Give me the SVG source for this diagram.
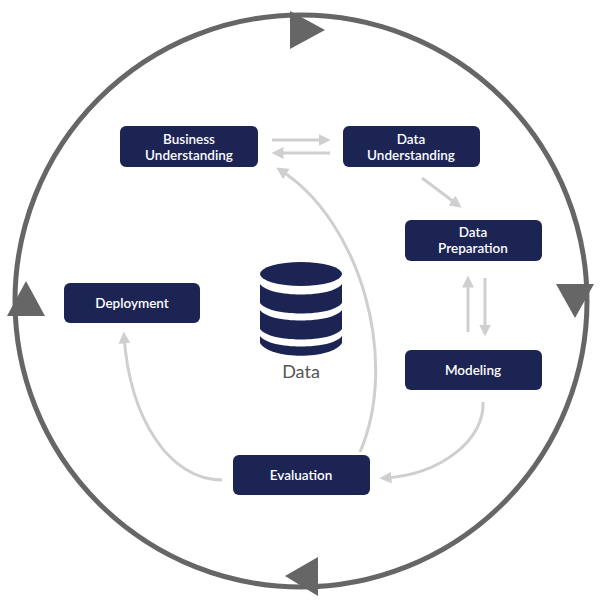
<svg xmlns="http://www.w3.org/2000/svg" width="607" height="612" viewBox="0 0 607 612">
<style>
.n rect{fill:#1c2453}
.n text{fill:#fff;font-family:"Lato","Liberation Sans",sans-serif;font-size:13.5px;font-weight:600;text-anchor:middle}
.c path{fill:none;stroke:#cfcfcf;stroke-width:3}
</style>
<defs>
<marker id="a" markerWidth="4" markerHeight="4" refX="2.5" refY="2" orient="auto" markerUnits="strokeWidth"><path d="M0,0L4,2L0,4z" fill="#cfcfcf"/></marker>
</defs>
<rect width="607" height="612" fill="#fff"/>
<circle cx="301" cy="301" r="286" fill="none" stroke="#666" stroke-width="5"/>
<g fill="#666">
<path d="M290,11L325,30L290,49z"/>
<path d="M556,284L594,284L575,318z"/>
<path d="M318,557L318,596L285,576z"/>
<path d="M7,316L45,316L26,281z"/>
</g>
<g class="c">
<path d="M272,140H326" marker-end="url(#a)"/>
<path d="M330,153H276" marker-end="url(#a)"/>
<path d="M422,178L458,205" marker-end="url(#a)"/>
<path d="M468,332V280" marker-end="url(#a)"/>
<path d="M485,278V332" marker-end="url(#a)"/>
<path d="M483,402C485,440 440,475 384,478" marker-end="url(#a)"/>
<path d="M360,452C400,360 360,220 280,170" marker-end="url(#a)"/>
<path d="M222,480C170,480 130,420 124,336" marker-end="url(#a)"/>
</g>
<g id="db" fill="#1c2453">
<ellipse cx="301" cy="274" rx="41" ry="12"/>
<path d="M260,284C270,298 332,298 342,284V303C332,317 270,317 260,303z"/>
<path d="M260,310C270,324 332,324 342,310V329C332,343 270,343 260,329z"/>
<path d="M260,336C270,350 332,350 342,336V343C332,360 270,360 260,343z"/>
</g>
<text x="301" y="378" font-family="Lato,'Liberation Sans',sans-serif" font-size="18" fill="#555" text-anchor="middle">Data</text>
<g id="bu" class="n"><rect x="120" y="126" width="138" height="41" rx="6"/><text x="189" y="144">Business</text><text x="189" y="160">Understanding</text></g>
<g id="du" class="n"><rect x="343" y="126" width="137" height="41" rx="6"/><text x="411" y="144">Data</text><text x="411" y="160">Understanding</text></g>
<g id="dp" class="n"><rect x="405" y="220" width="137" height="41" rx="6"/><text x="473" y="237">Data</text><text x="473" y="253">Preparation</text></g>
<g id="dep" class="n"><rect x="64" y="283" width="136" height="40" rx="6"/><text x="132" y="308">Deployment</text></g>
<g id="mod" class="n"><rect x="405" y="350" width="137" height="40" rx="6"/><text x="473" y="375">Modeling</text></g>
<g id="ev" class="n"><rect x="233" y="455" width="137" height="40" rx="6"/><text x="301" y="480">Evaluation</text></g>
</svg>
